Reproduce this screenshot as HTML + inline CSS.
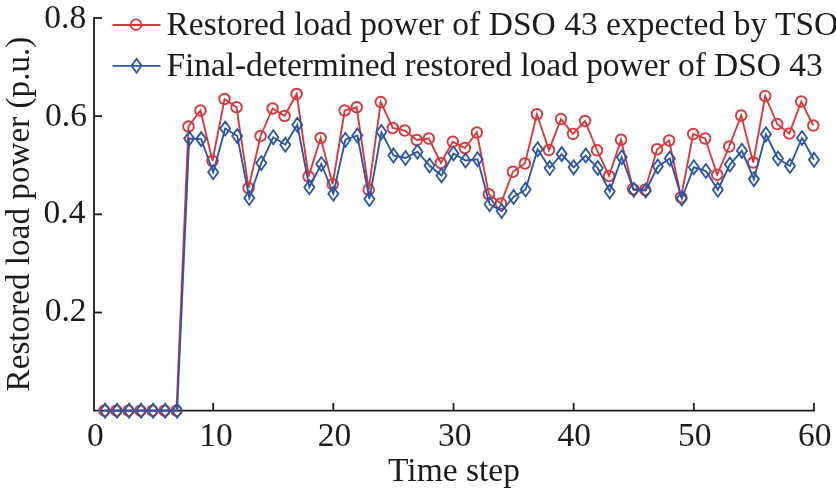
<!DOCTYPE html>
<html><head><meta charset="utf-8"><style>
html,body{margin:0;padding:0;background:#fff;}
svg{display:block;will-change:transform;}
text{font-family:"Liberation Serif",serif;fill:#1c1c1c;}
</style></head><body>
<svg width="836" height="491" viewBox="0 0 836 491">
<rect width="836" height="491" fill="#fff"/>
<g font-size="33.5">
<text x="86.2" y="27.8" text-anchor="end">0.8</text><text x="86.9" y="126.0" text-anchor="end">0.6</text><text x="85.4" y="223.4" text-anchor="end">0.4</text><text x="86.6" y="320.8" text-anchor="end">0.2</text>
<text x="95.34" y="446" text-anchor="middle">0</text><text x="215.90" y="446" text-anchor="middle">10</text><text x="334.56" y="446" text-anchor="middle">20</text><text x="454.72" y="446" text-anchor="middle">30</text><text x="574.18" y="446" text-anchor="middle">40</text><text x="694.84" y="446" text-anchor="middle">50</text><text x="814.70" y="446" text-anchor="middle">60</text>
<text x="454" y="481" text-anchor="middle">Time step</text>
<text transform="translate(29 214) rotate(-90)" text-anchor="middle" font-size="33.2">Restored load power (p.u.)</text>
</g>
<g stroke="#1c1c1c" stroke-width="1.8" fill="none">
<polyline points="94,17.1 94,410.67 814.9,410.67"/>
<line x1="94" y1="312.50" x2="102" y2="312.50"/><line x1="94" y1="214.34" x2="102" y2="214.34"/><line x1="94" y1="116.17" x2="102" y2="116.17"/><line x1="94" y1="18.01" x2="102" y2="18.01"/><line x1="213.20" y1="410.67" x2="213.20" y2="403"/><line x1="333.36" y1="410.67" x2="333.36" y2="403"/><line x1="453.52" y1="410.67" x2="453.52" y2="403"/><line x1="573.68" y1="410.67" x2="573.68" y2="403"/><line x1="693.84" y1="410.67" x2="693.84" y2="403"/><line x1="814.00" y1="410.67" x2="814.00" y2="403"/>
</g>
<g fill="none" stroke-width="1.85" stroke-linejoin="miter">
<polyline stroke="#d8373b" points="104.36,410.67 116.37,410.67 128.39,410.67 140.40,410.67 152.42,410.67 164.44,410.67 176.45,410.67 188.47,126.50 200.48,110.50 212.50,161.00 224.52,99.00 236.53,107.25 248.55,188.00 260.56,136.00 272.58,108.50 284.60,116.00 296.61,94.00 308.63,176.50 320.64,138.00 332.66,184.25 344.68,110.50 356.69,107.25 368.71,189.75 380.72,102.10 392.74,128.00 404.76,130.50 416.77,140.00 428.79,138.50 440.80,163.00 452.82,141.75 464.84,148.00 476.85,132.50 488.87,194.25 500.88,203.50 512.90,171.75 524.92,163.50 536.93,114.25 548.95,150.00 560.96,119.10 572.98,133.90 585.00,121.00 597.01,150.25 609.03,176.00 621.04,139.75 633.06,189.00 645.08,189.75 657.09,149.25 669.11,140.50 681.12,197.25 693.14,134.00 705.16,138.50 717.17,174.75 729.19,146.50 741.20,115.50 753.22,162.50 765.24,96.20 777.25,124.00 789.27,133.50 801.28,101.50 813.30,125.50"/>
<g stroke="#d8373b"><circle cx="104.36" cy="410.67" r="5.3"/><circle cx="116.37" cy="410.67" r="5.3"/><circle cx="128.39" cy="410.67" r="5.3"/><circle cx="140.40" cy="410.67" r="5.3"/><circle cx="152.42" cy="410.67" r="5.3"/><circle cx="164.44" cy="410.67" r="5.3"/><circle cx="176.45" cy="410.67" r="5.3"/><circle cx="188.47" cy="126.50" r="5.3"/><circle cx="200.48" cy="110.50" r="5.3"/><circle cx="212.50" cy="161.00" r="5.3"/><circle cx="224.52" cy="99.00" r="5.3"/><circle cx="236.53" cy="107.25" r="5.3"/><circle cx="248.55" cy="188.00" r="5.3"/><circle cx="260.56" cy="136.00" r="5.3"/><circle cx="272.58" cy="108.50" r="5.3"/><circle cx="284.60" cy="116.00" r="5.3"/><circle cx="296.61" cy="94.00" r="5.3"/><circle cx="308.63" cy="176.50" r="5.3"/><circle cx="320.64" cy="138.00" r="5.3"/><circle cx="332.66" cy="184.25" r="5.3"/><circle cx="344.68" cy="110.50" r="5.3"/><circle cx="356.69" cy="107.25" r="5.3"/><circle cx="368.71" cy="189.75" r="5.3"/><circle cx="380.72" cy="102.10" r="5.3"/><circle cx="392.74" cy="128.00" r="5.3"/><circle cx="404.76" cy="130.50" r="5.3"/><circle cx="416.77" cy="140.00" r="5.3"/><circle cx="428.79" cy="138.50" r="5.3"/><circle cx="440.80" cy="163.00" r="5.3"/><circle cx="452.82" cy="141.75" r="5.3"/><circle cx="464.84" cy="148.00" r="5.3"/><circle cx="476.85" cy="132.50" r="5.3"/><circle cx="488.87" cy="194.25" r="5.3"/><circle cx="500.88" cy="203.50" r="5.3"/><circle cx="512.90" cy="171.75" r="5.3"/><circle cx="524.92" cy="163.50" r="5.3"/><circle cx="536.93" cy="114.25" r="5.3"/><circle cx="548.95" cy="150.00" r="5.3"/><circle cx="560.96" cy="119.10" r="5.3"/><circle cx="572.98" cy="133.90" r="5.3"/><circle cx="585.00" cy="121.00" r="5.3"/><circle cx="597.01" cy="150.25" r="5.3"/><circle cx="609.03" cy="176.00" r="5.3"/><circle cx="621.04" cy="139.75" r="5.3"/><circle cx="633.06" cy="189.00" r="5.3"/><circle cx="645.08" cy="189.75" r="5.3"/><circle cx="657.09" cy="149.25" r="5.3"/><circle cx="669.11" cy="140.50" r="5.3"/><circle cx="681.12" cy="197.25" r="5.3"/><circle cx="693.14" cy="134.00" r="5.3"/><circle cx="705.16" cy="138.50" r="5.3"/><circle cx="717.17" cy="174.75" r="5.3"/><circle cx="729.19" cy="146.50" r="5.3"/><circle cx="741.20" cy="115.50" r="5.3"/><circle cx="753.22" cy="162.50" r="5.3"/><circle cx="765.24" cy="96.20" r="5.3"/><circle cx="777.25" cy="124.00" r="5.3"/><circle cx="789.27" cy="133.50" r="5.3"/><circle cx="801.28" cy="101.50" r="5.3"/><circle cx="813.30" cy="125.50" r="5.3"/></g>
<polyline stroke="#2c55a2" points="105.06,410.67 117.07,410.67 129.09,410.67 141.10,410.67 153.12,410.67 165.14,410.67 177.15,410.67 189.17,138.50 201.18,139.10 213.20,172.25 225.22,128.50 237.23,136.00 249.25,198.00 261.26,163.00 273.28,137.25 285.30,144.75 297.31,124.75 309.33,187.25 321.34,164.00 333.36,193.75 345.38,139.75 357.39,135.50 369.41,199.00 381.42,132.00 393.44,155.45 405.46,158.00 417.47,151.75 429.49,165.50 441.50,175.50 453.52,153.50 465.54,160.50 477.55,159.25 489.57,204.25 501.58,211.00 513.60,197.00 525.62,189.50 537.63,149.25 549.65,168.00 561.66,154.10 573.68,167.30 585.70,155.50 597.71,168.00 609.73,191.50 621.74,157.25 633.76,189.75 645.78,190.50 657.79,166.50 669.81,158.50 681.82,198.50 693.84,167.25 705.86,171.00 717.87,189.75 729.89,164.50 741.90,150.80 753.92,179.10 765.94,134.30 777.95,158.50 789.97,166.00 801.98,138.00 814.00,159.75"/>
<path stroke="#2c55a2" d="M105.06 403.67L110.06 410.67L105.06 417.67L100.06 410.67ZM117.07 403.67L122.07 410.67L117.07 417.67L112.07 410.67ZM129.09 403.67L134.09 410.67L129.09 417.67L124.09 410.67ZM141.10 403.67L146.10 410.67L141.10 417.67L136.10 410.67ZM153.12 403.67L158.12 410.67L153.12 417.67L148.12 410.67ZM165.14 403.67L170.14 410.67L165.14 417.67L160.14 410.67ZM177.15 403.67L182.15 410.67L177.15 417.67L172.15 410.67ZM189.17 131.50L194.17 138.50L189.17 145.50L184.17 138.50ZM201.18 132.10L206.18 139.10L201.18 146.10L196.18 139.10ZM213.20 165.25L218.20 172.25L213.20 179.25L208.20 172.25ZM225.22 121.50L230.22 128.50L225.22 135.50L220.22 128.50ZM237.23 129.00L242.23 136.00L237.23 143.00L232.23 136.00ZM249.25 191.00L254.25 198.00L249.25 205.00L244.25 198.00ZM261.26 156.00L266.26 163.00L261.26 170.00L256.26 163.00ZM273.28 130.25L278.28 137.25L273.28 144.25L268.28 137.25ZM285.30 137.75L290.30 144.75L285.30 151.75L280.30 144.75ZM297.31 117.75L302.31 124.75L297.31 131.75L292.31 124.75ZM309.33 180.25L314.33 187.25L309.33 194.25L304.33 187.25ZM321.34 157.00L326.34 164.00L321.34 171.00L316.34 164.00ZM333.36 186.75L338.36 193.75L333.36 200.75L328.36 193.75ZM345.38 132.75L350.38 139.75L345.38 146.75L340.38 139.75ZM357.39 128.50L362.39 135.50L357.39 142.50L352.39 135.50ZM369.41 192.00L374.41 199.00L369.41 206.00L364.41 199.00ZM381.42 125.00L386.42 132.00L381.42 139.00L376.42 132.00ZM393.44 148.45L398.44 155.45L393.44 162.45L388.44 155.45ZM405.46 151.00L410.46 158.00L405.46 165.00L400.46 158.00ZM417.47 144.75L422.47 151.75L417.47 158.75L412.47 151.75ZM429.49 158.50L434.49 165.50L429.49 172.50L424.49 165.50ZM441.50 168.50L446.50 175.50L441.50 182.50L436.50 175.50ZM453.52 146.50L458.52 153.50L453.52 160.50L448.52 153.50ZM465.54 153.50L470.54 160.50L465.54 167.50L460.54 160.50ZM477.55 152.25L482.55 159.25L477.55 166.25L472.55 159.25ZM489.57 197.25L494.57 204.25L489.57 211.25L484.57 204.25ZM501.58 204.00L506.58 211.00L501.58 218.00L496.58 211.00ZM513.60 190.00L518.60 197.00L513.60 204.00L508.60 197.00ZM525.62 182.50L530.62 189.50L525.62 196.50L520.62 189.50ZM537.63 142.25L542.63 149.25L537.63 156.25L532.63 149.25ZM549.65 161.00L554.65 168.00L549.65 175.00L544.65 168.00ZM561.66 147.10L566.66 154.10L561.66 161.10L556.66 154.10ZM573.68 160.30L578.68 167.30L573.68 174.30L568.68 167.30ZM585.70 148.50L590.70 155.50L585.70 162.50L580.70 155.50ZM597.71 161.00L602.71 168.00L597.71 175.00L592.71 168.00ZM609.73 184.50L614.73 191.50L609.73 198.50L604.73 191.50ZM621.74 150.25L626.74 157.25L621.74 164.25L616.74 157.25ZM633.76 182.75L638.76 189.75L633.76 196.75L628.76 189.75ZM645.78 183.50L650.78 190.50L645.78 197.50L640.78 190.50ZM657.79 159.50L662.79 166.50L657.79 173.50L652.79 166.50ZM669.81 151.50L674.81 158.50L669.81 165.50L664.81 158.50ZM681.82 191.50L686.82 198.50L681.82 205.50L676.82 198.50ZM693.84 160.25L698.84 167.25L693.84 174.25L688.84 167.25ZM705.86 164.00L710.86 171.00L705.86 178.00L700.86 171.00ZM717.87 182.75L722.87 189.75L717.87 196.75L712.87 189.75ZM729.89 157.50L734.89 164.50L729.89 171.50L724.89 164.50ZM741.90 143.80L746.90 150.80L741.90 157.80L736.90 150.80ZM753.92 172.10L758.92 179.10L753.92 186.10L748.92 179.10ZM765.94 127.30L770.94 134.30L765.94 141.30L760.94 134.30ZM777.95 151.50L782.95 158.50L777.95 165.50L772.95 158.50ZM789.97 159.00L794.97 166.00L789.97 173.00L784.97 166.00ZM801.98 131.00L806.98 138.00L801.98 145.00L796.98 138.00ZM814.00 152.75L819.00 159.75L814.00 166.75L809.00 159.75Z"/>
</g>
<g fill="none" stroke-width="1.8">
<line x1="112.5" y1="25" x2="160.5" y2="25" stroke="#d8373b"/>
<circle cx="136" cy="24.7" r="5.3" stroke="#d8373b"/>
<line x1="112.5" y1="65.8" x2="160.5" y2="65.8" stroke="#2c55a2"/>
<path stroke="#2c55a2" d="M136.60 58.80L141.60 65.80L136.60 72.80L131.60 65.80Z"/>
</g>
<g font-size="33.5">
<text x="166.4" y="34.8" textLength="671.9" lengthAdjust="spacing">Restored load power of DSO 43 expected by TSO</text>
<text x="166.4" y="75.6" textLength="656.3" lengthAdjust="spacing">Final-determined restored load power of DSO 43</text>
</g>
</svg>
</body></html>
